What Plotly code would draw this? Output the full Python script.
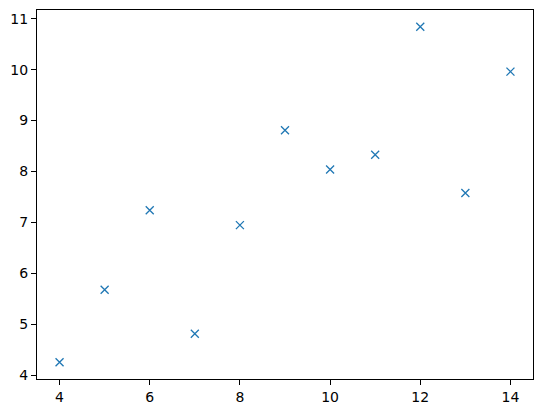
import plotly.graph_objects as go

x_vals = [10, 8, 13, 9, 11, 14, 6, 4, 12, 7, 5]
y_vals = [8.04, 6.95, 7.58, 8.81, 8.33, 9.96, 7.24, 4.26, 10.84, 4.82, 5.68]

fig = go.Figure(go.Scatter(
    x=x_vals, y=y_vals, mode="markers",
    marker=dict(symbol="x-thin", size=8, color="#1f77b4",
                line=dict(width=1.3, color="#1f77b4")),
))

axis_common = dict(
    showgrid=False, zeroline=False, showline=True, linecolor="black", linewidth=1,
    mirror=True, ticks="outside", ticklen=5, tickwidth=1, tickcolor="black",
    tickfont=dict(family="DejaVu Sans", size=14, color="black"),
    automargin=False,
)
xmin, xmax = min(x_vals), max(x_vals)
ymin, ymax = min(y_vals), max(y_vals)
xm = (xmax - xmin) * 0.05
ym = (ymax - ymin) * 0.05
fig.update_xaxes(range=[xmin - xm, xmax + xm], dtick=2, tick0=0, **axis_common)
fig.update_yaxes(range=[ymin - ym, ymax + ym], dtick=1, tick0=0, **axis_common)

# page body has an 8px default margin; compensate so the plot area lands at
# the same pixel positions as the reference
fig.update_layout(
    width=535, height=405,
    margin=dict(l=29, r=10, t=2, b=34),
    plot_bgcolor="white", paper_bgcolor="white",
    showlegend=False,
)
fig.write_html("out.html")
